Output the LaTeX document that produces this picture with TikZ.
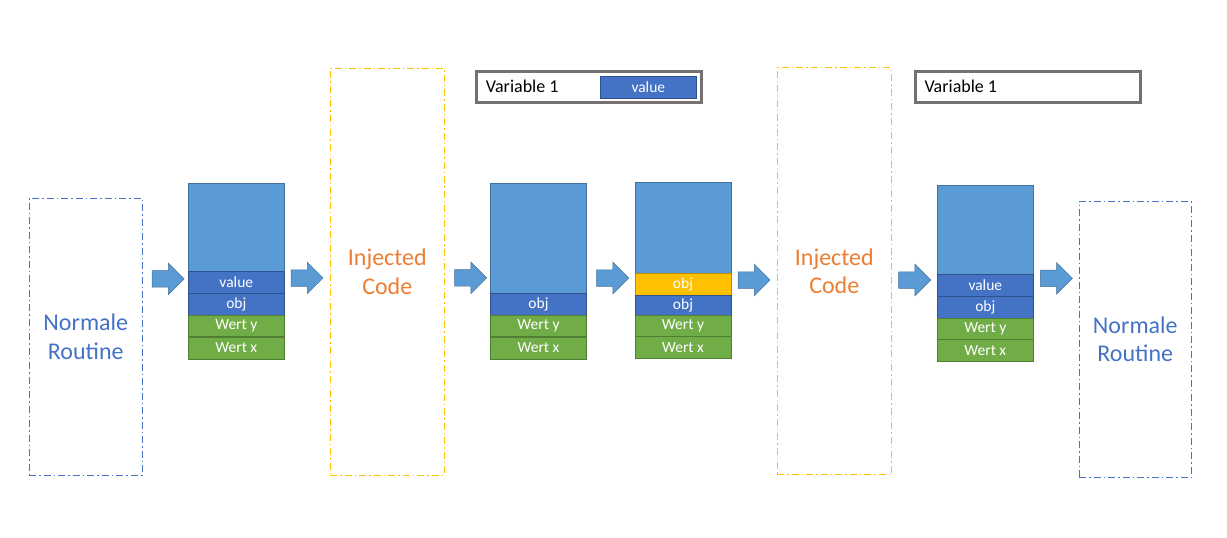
\documentclass[tikz,border=0pt]{standalone}
\usepackage{fontspec}
\setmainfont{Carlito}
\usetikzlibrary{shapes.arrows}
\definecolor{lblue}{HTML}{5B9BD5}
\definecolor{lblueb}{HTML}{41719C}
\definecolor{dblue}{HTML}{4472C4}
\definecolor{dblueb}{HTML}{2F528F}
\definecolor{green}{HTML}{70AD47}
\definecolor{greenb}{HTML}{507E32}
\definecolor{yel}{HTML}{FFC000}
\definecolor{yelb}{HTML}{BC8C00}
\definecolor{orng}{HTML}{ED7D31}
\definecolor{gry}{HTML}{767171}
\begin{document}
\begin{tikzpicture}[x=1pt,y=-1pt,
  routine/.style={draw=dblue, line width=0.9pt, dash pattern=on 7pt off 3pt on 1.5pt off 3pt,
    minimum width=113, minimum height=277, inner sep=0, text=dblue, align=center,
    font=\fontsize{24}{28.5}\selectfont},
  injected/.style={routine, draw=yel, text=orng, minimum width=114, minimum height=407},
  cell/.style={draw, line width=0.6pt, minimum width=96, minimum height=22, inner sep=0,
    text=white, font=\fontsize{15.5}{18}\selectfont},
  topcell/.style={cell, fill=lblue, draw=lblueb},
  bluecell/.style={cell, fill=dblue, draw=dblueb},
  greencell/.style={cell, fill=green, draw=greenb},
  yelcell/.style={cell, fill=yel, draw=yelb},
  blockarrow/.style={single arrow, fill=lblue, draw=lblueb, line width=0.5pt,
    minimum width=31, minimum height=32, single arrow head extend=7.5,
    single arrow tip angle=90, inner xsep=0, inner ysep=8, outer sep=0},
  varbox/.style={draw=gry, line width=3pt, minimum width=225, minimum height=31, inner sep=0},
  vartext/.style={anchor=west, inner sep=0, text=black, font=\fontsize{18}{20}\selectfont}
]
\useasboundingbox (0,0) rectangle (1227,538);

% routines and injected code
\node[routine] (r1) at (85.8,336.7) {Normale\\Routine};
\node[injected] (i1) at (387.3,271.5) {Injected\\Code};
\node[injected] (i2) at (834.3,271.3) {Injected\\Code};
\node[routine, minimum width=112, minimum height=276] (r2) at (1135.3,339.5) {Normale\\Routine};

% variable boxes
\node[varbox] (v1) at (589.2,87.2) {};
\node[vartext] (v1t) at (485.7,86.5) {Variable 1};
\node[bluecell, minimum width=96] (v1v) at (648.3,87.3) {value};
\node[varbox] (v2) at (1027.8,87.2) {};
\node[vartext] (v2t) at (924.3,86.5) {Variable 1};

% stack 1
\node[topcell, minimum height=88] (s1t) at (236.3,227.3) {};
\node[bluecell] (s1a) at (236.3,282.3) {value};
\node[bluecell] (s1b) at (236.3,304.5) {obj};
\node[greencell, minimum height=21] (s1c) at (236.3,326.2) {Wert y};
\node[greencell] (s1d) at (236.3,347.8) {Wert x};

% stack 2
\node[topcell, minimum height=110] (s2t) at (538.5,238.3) {};
\node[bluecell] (s2b) at (538.5,304.5) {obj};
\node[greencell, minimum height=21] (s2c) at (538.5,326.2) {Wert y};
\node[greencell] (s2d) at (538.5,347.8) {Wert x};

% stack 3
\node[topcell, minimum height=91] (s3t) at (683,227.8) {};
\node[yelcell] (s3y) at (683,284.2) {obj};
\node[bluecell, minimum height=21] (s3b) at (683,305.4) {obj};
\node[greencell, minimum height=21] (s3c) at (683,326.2) {Wert y};
\node[greencell] (s3d) at (683,347.5) {Wert x};

% stack 4
\node[topcell, minimum height=89] (s4t) at (985.3,229.7) {};
\node[bluecell] (s4a) at (985.3,285.3) {value};
\node[bluecell] (s4b) at (985.3,307.3) {obj};
\node[greencell, minimum height=21] (s4c) at (985.3,328.8) {Wert y};
\node[greencell] (s4d) at (985.3,350.2) {Wert x};

% block arrows
\node[blockarrow] (a1) at (164,278.8) {};
\node[blockarrow] (a2) at (303,278) {};
\node[blockarrow] (a3) at (466.5,277.8) {};
\node[blockarrow] (a4) at (608.6,278) {};
\node[blockarrow] (a5) at (750,280) {};
\node[blockarrow] (a6) at (910.6,280) {};
\node[blockarrow] (a7) at (1052.3,278.3) {};
\end{tikzpicture}
\end{document}
